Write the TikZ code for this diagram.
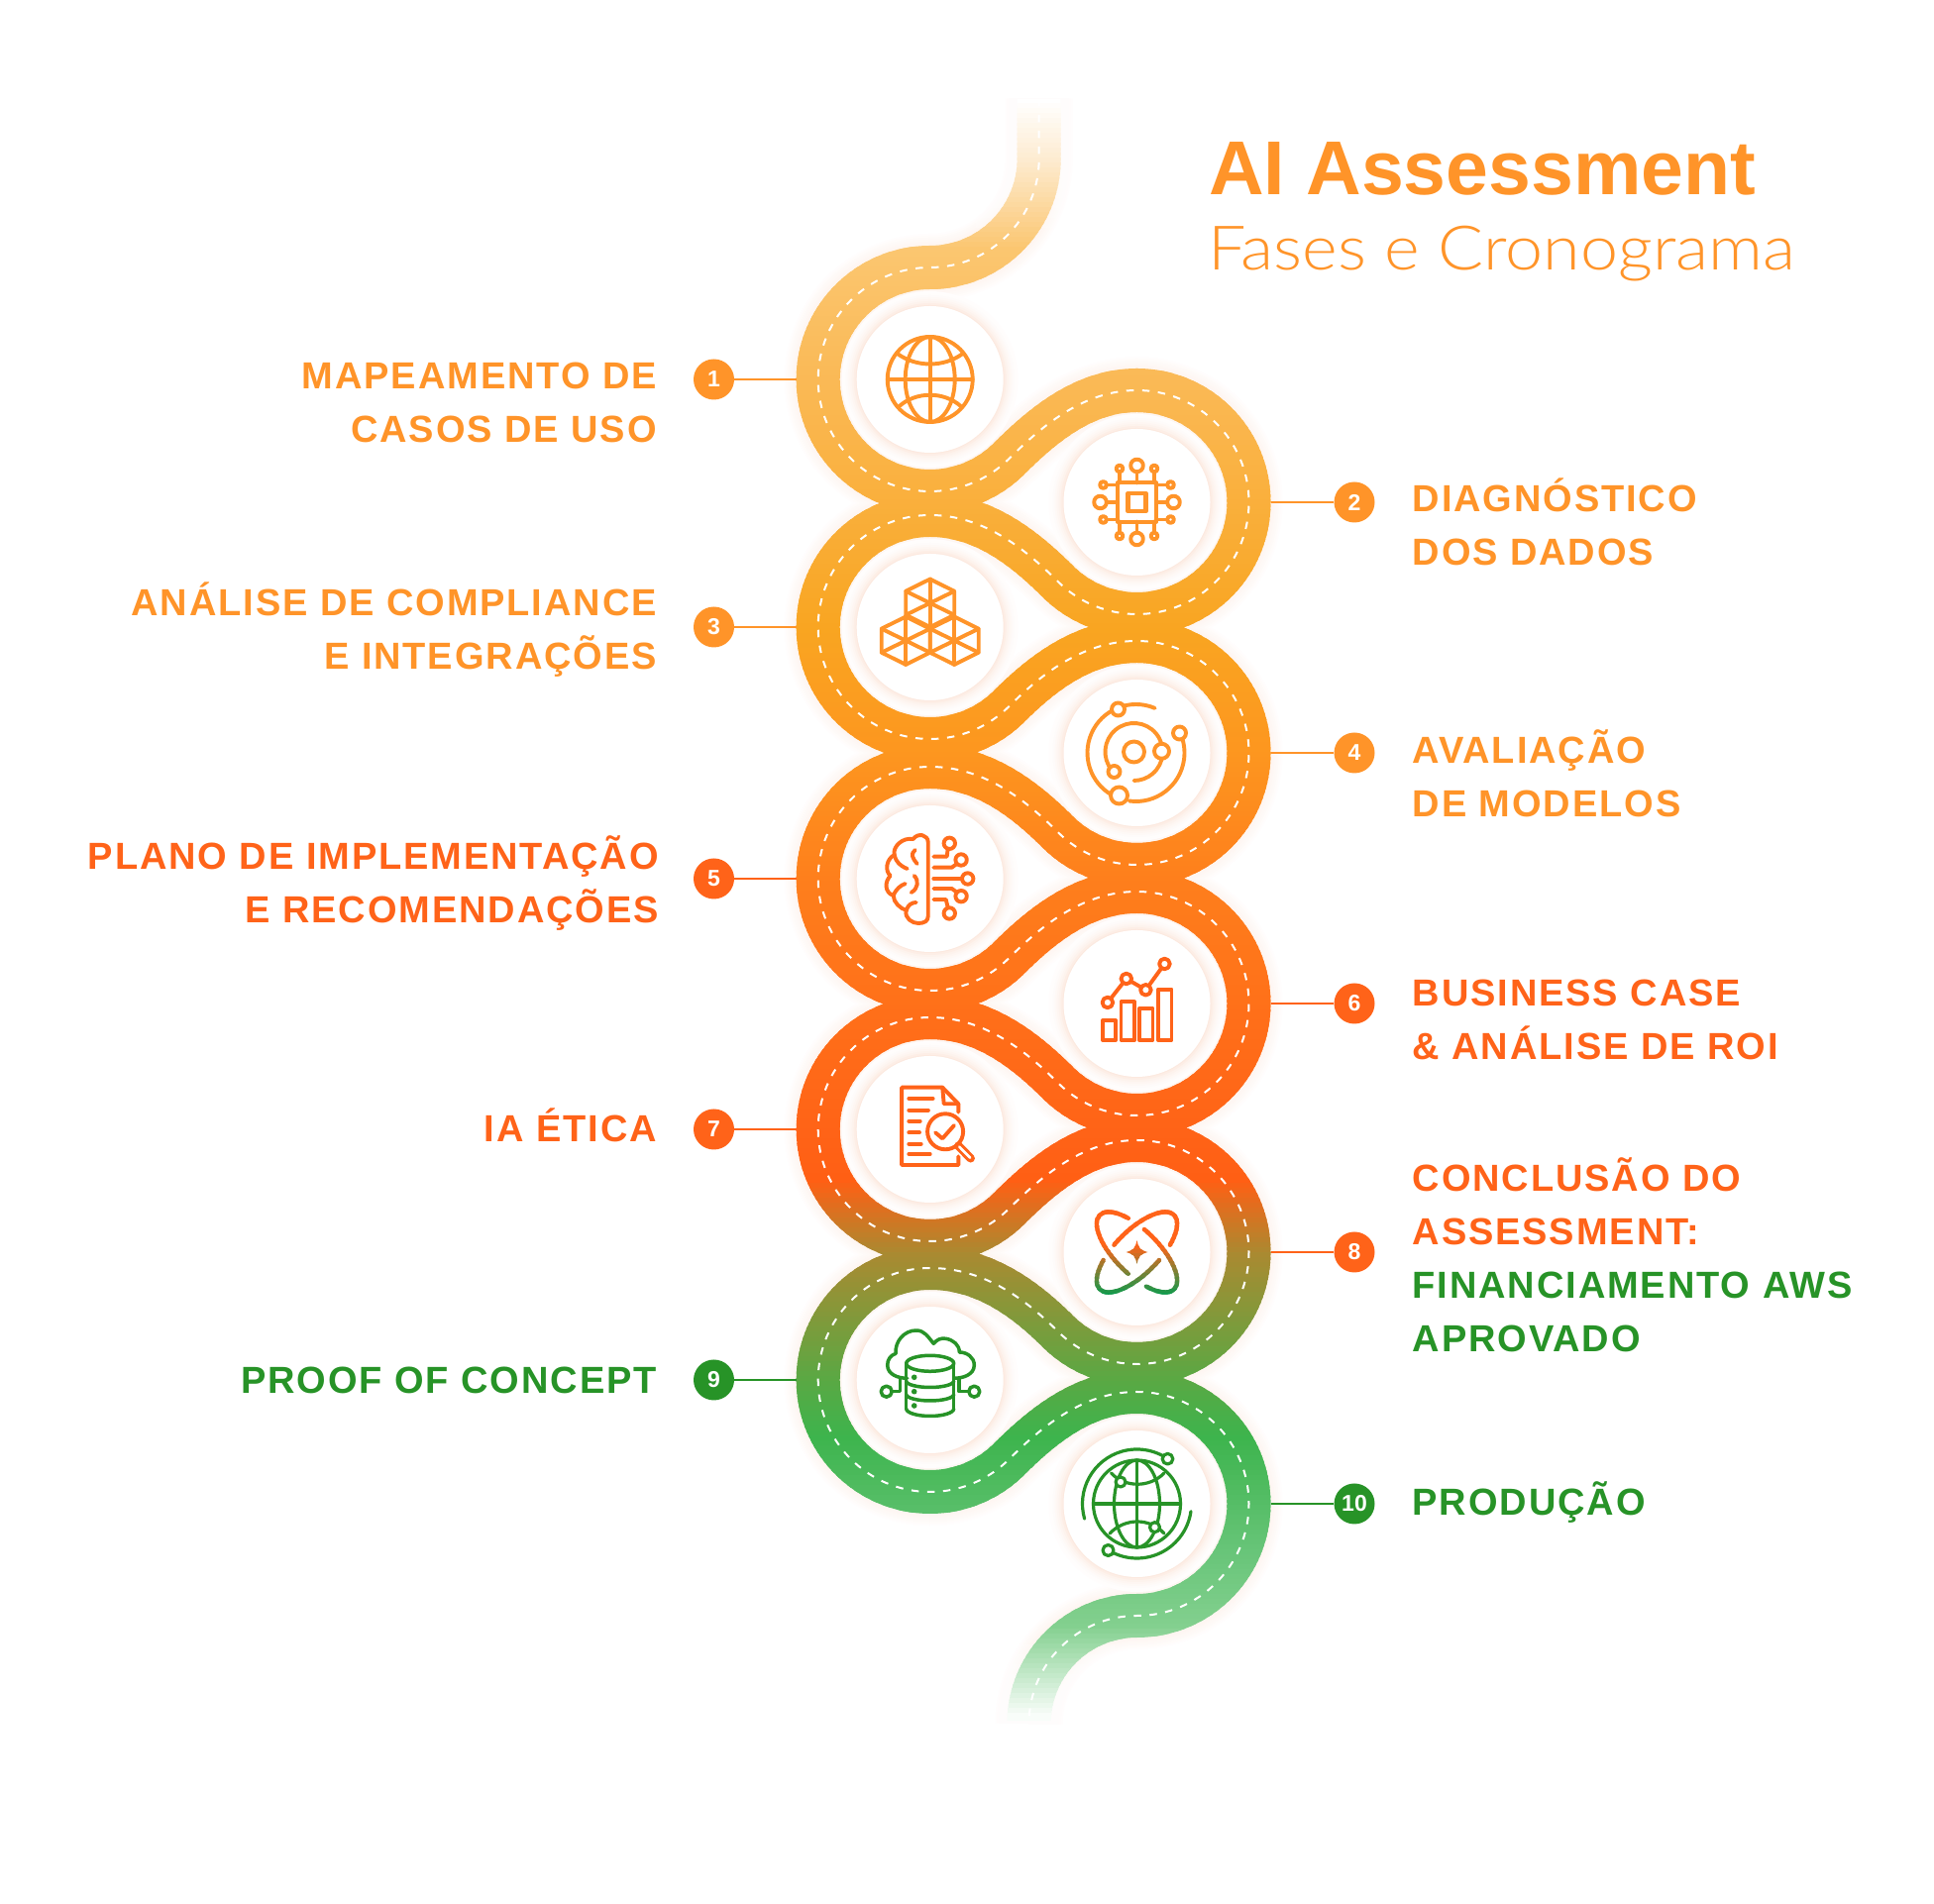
\documentclass[tikz,border=0pt]{standalone}
\usepackage{fontspec}
\usepackage{xcolor}
\setmainfont{Liberation Sans}
\newfontfamily\lblfont[LetterSpace=5]{Liberation Sans}
\newfontfamily\subfont[FakeStretch=1.1]{Lato Light}

\definecolor{lblOrange}{HTML}{FF9429}
\definecolor{lblRed}{HTML}{FF6319}
\definecolor{lblGreen}{HTML}{279327}
\definecolor{atomGreen}{HTML}{0E9A4C}
\definecolor{haloPink}{HTML}{FBDCCB}
\definecolor{rd0}{HTML}{FFFFFF}
\definecolor{rd1}{HTML}{FDEBD0}
\definecolor{rd2}{HTML}{FBC670}
\definecolor{rd3}{HTML}{FAB955}
\definecolor{rd4}{HTML}{F9A521}
\definecolor{rd5}{HTML}{FD961F}
\definecolor{rd6}{HTML}{FE7F1C}
\definecolor{rd7}{HTML}{FF7019}
\definecolor{rd8}{HTML}{FF6317}
\definecolor{rd9}{HTML}{FF5F14}
\definecolor{rd10}{HTML}{A98A31}
\definecolor{rd11}{HTML}{58A944}
\definecolor{rd12}{HTML}{3DB44D}
\definecolor{rd13}{HTML}{66C477}
\definecolor{rd14}{HTML}{83D08F}

\newcommand{\roadpath}{
(1048.7,1822) -- (1048.7,1762) arc[start angle=0,end angle=-90,radius=110]
arc[start angle=90,end angle=315,radius=113] .. controls +(45:50) and +(180:52) .. (1147.5,1528)
arc[start angle=90,end angle=-135,radius=113] .. controls +(135:50) and +(0:52) .. (938.7,1402)
arc[start angle=90,end angle=315,radius=113] .. controls +(45:50) and +(180:52) .. (1147.5,1275)
arc[start angle=90,end angle=-135,radius=113] .. controls +(135:50) and +(0:52) .. (938.7,1148)
arc[start angle=90,end angle=315,radius=113] .. controls +(45:50) and +(180:52) .. (1147.5,1022)
arc[start angle=90,end angle=-135,radius=113] .. controls +(135:50) and +(0:52) .. (938.7,895)
arc[start angle=90,end angle=315,radius=113] .. controls +(45:50) and +(180:52) .. (1147.5,771)
arc[start angle=90,end angle=-135,radius=113] .. controls +(135:50) and +(0:52) .. (938.7,642)
arc[start angle=90,end angle=315,radius=113] .. controls +(45:50) and +(180:52) .. (1147.5,517)
arc[start angle=90,end angle=-90,radius=113] arc[start angle=90,end angle=180,radius=109]
}

\newcommand{\atomicon}{
\draw[rotate=-45] (0,0) ++(125:53 and 22) arc[start angle=125,end angle=280,x radius=53,y radius=22];
\draw[rotate=-45] (0,0) ++(102:53 and 22) arc[start angle=102,end angle=-54,x radius=53,y radius=22];
\draw[rotate=45] (0,0) ++(102:53 and 22) arc[start angle=102,end angle=-57,x radius=53,y radius=22];
\draw[rotate=45] (0,0) ++(124:53 and 22) arc[start angle=124,end angle=281,x radius=53,y radius=22];
\fill (0,12) .. controls (1.5,4) and (4,1.5) .. (11,0) .. controls (4,-1.5) and (1.5,-4) .. (0,-12) .. controls (-1.5,-4) and (-4,-1.5) .. (-11,0) .. controls (-4,1.5) and (-1.5,4) .. (0,12) -- cycle;
}

\tikzset{
  disc/.style={circle,fill=white,minimum size=148pt,inner sep=0pt},
  badge/.style={circle,minimum size=41pt,inner sep=0pt,text=white,font=\bfseries\fontsize{23}{23}\selectfont},
  leader/.style={line width=1.6pt},
  lblL/.style={anchor=base east,align=right,inner sep=0pt,font=\lblfont\bfseries\fontsize{38}{54}\selectfont},
  lblR/.style={anchor=base west,align=left,inner sep=0pt,font=\lblfont\bfseries\fontsize{38}{54}\selectfont},
  icon/.style={line width=3.9pt,line cap=round,line join=round}
}

\begin{document}
\begin{tikzpicture}[x=1pt,y=1pt]
\useasboundingbox (0,0) rectangle (1952,1922);
\fill[white] (0,0) rectangle (1952,1922);

% soft edge of the road
\foreach \k in {12,10,...,2}{
\pgfmathsetmacro{\p}{(14-\k)*2.2}
\draw[line width=44+2*\k,draw=haloPink!\p!white] \roadpath;
}
\foreach \d in {0,10,...,80}{
\fill[white,opacity=.25] (985,1860) rectangle (1110,1922-150-\d);
\fill[white,opacity=.25] (985,120) rectangle (1125,1922-1740+\d);
}

% road, cut in thin bands so that its colour runs from top to bottom
\foreach \ya/\ca/\yb/\cb in {100/rd0/160/rd1,160/rd1/250/rd2,250/rd2/385/rd3,385/rd3/635/rd4,635/rd4/760/rd5,760/rd5/885/rd6,885/rd6/1015/rd7,1015/rd7/1140/rd8,1140/rd8/1190/rd9,1190/rd9/1265/rd10,1265/rd10/1395/rd11,1395/rd11/1450/rd12,1450/rd12/1560/rd13,1560/rd13/1640/rd14,1640/rd14/1735/rd0}{
\pgfmathsetmacro{\h}{\yb-\ya}
\pgfmathsetmacro{\hh}{\h-5}
\foreach \t in {0,5,...,\hh}{
\pgfmathsetmacro{\p}{100*(\t/\h)}
\begin{scope}
\clip (700,1922-\ya-\t) rectangle (1320,1922-\ya-\t-6.5);
\draw[line width=44pt,draw=\cb!\p!\ca] \roadpath;
\end{scope}
}
}
\draw[white,line width=2pt,dash pattern=on 7.5pt off 8.5pt] \roadpath;

% discs
\foreach \n/\x/\y in {1/938.7/1539,2/1147.5/1415,3/938.7/1289,4/1147.5/1162,5/938.7/1035,6/1147.5/909,7/938.7/782,8/1147.5/658,9/938.7/529,10/1147.5/404}{
\foreach \r in {89,87,...,75}{
\pgfmathsetmacro{\p}{(90-\r)*(90-\r)*0.26+4}
\fill[haloPink!\p!white] (\x,\y) circle (\r);
}
\node[disc] (n\n) at (\x,\y) {};
}

% numbers and their lines
\foreach \n/\bx/\ex/\y/\col in {1/720.5/803.7/1539/lblOrange,2/1367/1282.5/1415/lblOrange,3/720.5/803.7/1289/lblOrange,4/1367/1282.5/1162/lblOrange,5/720.5/803.7/1035/lblRed,6/1367/1282.5/909/lblRed,7/720.5/803.7/782/lblRed,8/1367/1282.5/658/lblRed,9/720.5/803.7/529/lblGreen,10/1367/1282.5/404/lblGreen}{
\coordinate (e\n) at (\ex,\y);
\node[badge,fill=\col] (b\n) at (\bx,\y) {\n};
\draw[leader,\col] (b\n) -- (e\n);
}

% texts
\node[anchor=base west,inner sep=0pt,text=lblOrange,font=\bfseries\fontsize{77}{77}\selectfont] (title) at (1220,1725) {AI Assessment};
\node[anchor=base west,inner sep=0pt,text=lblOrange,font=\subfont\fontsize{62}{62}\selectfont] (subtitle) at (1219,1649.3) {Fases e Cronograma};

\node[lblL,text=lblOrange] (lab1) at (663,1475.7) {MAPEAMENTO DE\\CASOS DE USO};
\node[lblR,text=lblOrange] (lab2) at (1425.5,1351.2) {DIAGNÓSTICO\\DOS DADOS};
\node[lblL,text=lblOrange] (lab3) at (663,1246.6) {ANÁLISE DE COMPLIANCE\\E INTEGRAÇÕES};
\node[lblR,text=lblOrange] (lab4) at (1425.5,1097.2) {AVALIAÇÃO\\DE MODELOS};
\node[lblL,text=lblRed] (lab5) at (665,990.3) {PLANO DE IMPLEMENTAÇÃO\\E RECOMENDAÇÕES};
\node[lblR,text=lblRed] (lab6) at (1425.5,852) {BUSINESS CASE\\\& ANÁLISE DE ROI};
\node[lblL,text=lblRed] (lab7) at (663,769) {IA ÉTICA};
\node[lblR] (lab8) at (1425.5,557) {\textcolor{lblRed}{CONCLUSÃO DO}\\\textcolor{lblRed}{ASSESSMENT:}\\\textcolor{lblGreen}{FINANCIAMENTO AWS}\\\textcolor{lblGreen}{APROVADO}};
\node[lblL,text=lblGreen] (lab9) at (663,515) {PROOF OF CONCEPT};
\node[lblR,text=lblGreen] (lab10) at (1425.5,392) {PRODUÇÃO};

% globe
\begin{scope}[shift={(n1)},icon,color=lblOrange]
\draw (0,0) circle (43);
\draw (0,0) ellipse (25 and 43);
\draw (-43,0) -- (43,0);
\draw (0,-43) -- (0,43);
\draw (-33,26) .. controls (-14,12) and (14,12) .. (33,26);
\draw (-31,-27) .. controls (-14,-12) and (14,-12) .. (31,-27);
\end{scope}

% chip
\begin{scope}[shift={(n2)},icon,color=lblOrange]
\draw (-19.6,-19.6) rectangle (19.6,19.6);
\draw[line width=4.6pt] (-9,-9) rectangle (9,9);
\foreach \a in {0,90,180,270}{
\begin{scope}[rotate=\a]
\draw (19.6,0) -- (30.5,0);
\draw (37,0) circle (6.3);
\draw (19.6,17.5) -- (30,17.5);
\draw (19.6,-17.5) -- (30,-17.5);
\draw (34,17.5) circle (3.4);
\draw (34,-17.5) circle (3.4);
\end{scope}
}
\end{scope}

% cubes
\begin{scope}[shift={(n3)},icon,color=lblOrange]
\foreach \cx/\cy in {0/24.2,-24.5/-13.7,24.5/-13.7}{
\begin{scope}[shift={(\cx,\cy)}]
\draw (0,24.2) -- (24.5,12) -- (24.5,-12) -- (0,-24.2) -- (-24.5,-12) -- (-24.5,12) -- cycle;
\draw (0,24.2) -- (0,-24.2);
\draw (-24.5,12) -- (24.5,-12);
\draw (-24.5,-12) -- (24.5,12);
\end{scope}
}
\end{scope}

% orbits
\begin{scope}[shift={(n4)},icon,color=lblOrange]
\draw (-3,1) circle (10.5);
\draw (-3,1) ++(220:29) arc[start angle=220,end angle=-90,radius=29];
\draw (-1,0) ++(67:49) arc[start angle=67,end angle=240,radius=49];
\draw (-1,0) ++(262:49) arc[start angle=262,end angle=385,radius=49];
\filldraw[fill=white] (25,1.7) circle (7.5);
\filldraw[fill=white] (-23,-19) circle (6);
\filldraw[fill=white] (-19,44) circle (6.5);
\filldraw[fill=white] (-18,-43) circle (8.5);
\filldraw[fill=white] (43,20) circle (6.5);
\end{scope}

% brain
\begin{scope}[shift={(n5)},icon,color=lblRed!80!lblOrange]
\draw (-2,-38) -- (-2,37) .. controls (-2,44) and (-12,47) .. (-17,40) .. controls (-28,42) and (-38,32) .. (-36,24)
  .. controls (-44,20) and (-46,8) .. (-40,3) .. controls (-46,-3) and (-46,-14) .. (-37,-17)
  .. controls (-37,-24) and (-30,-30) .. (-24,-32) .. controls (-26,-40) and (-18,-45) .. (-12,-45) .. controls (-6,-45) and (-2,-43) .. (-2,-38);
\draw (-36,24) .. controls (-34,16) and (-30,13) .. (-23,10);
\draw (-15,29) .. controls (-20,25) and (-18,21) .. (-13,15);
\draw (-16,3) .. controls (-11,-2) and (-12,-10) .. (-19,-14);
\draw (-37,-17) .. controls (-34,-10) and (-30,-7) .. (-25,-5);
\draw (-24,-32) .. controls (-22,-26) and (-18,-24) .. (-14,-24);
\draw (3.6,22.3) -- (17,22.3) -- (18,30.5);
\draw (19.6,35.7) circle (5.7);
\draw (3.6,11.3) -- (22,11.3) -- (27,15);
\draw (31.4,19) circle (5.7);
\draw (3.6,0) -- (32.3,0);
\draw (38,0) circle (5.7);
\draw (3.6,-10) -- (22,-10) -- (27,-13.7);
\draw (31.4,-17.7) circle (5.7);
\draw (3.6,-21) -- (16,-21) -- (18,-29);
\draw (19.6,-35) circle (5.7);
\end{scope}

% chart
\begin{scope}[shift={(n6)},icon,color=lblRed]
\draw (-34.6,-37) rectangle (-21.4,-17.3);
\draw (-16,-37) rectangle (-2.5,1.7);
\draw (2.5,-37) rectangle (16,-5);
\draw (21.4,-37) rectangle (35,14.3);
\draw (-29.6,1) -- (-10.7,25) -- (8.9,13.7) -- (27.9,40);
\filldraw[fill=white] (-29.6,1) circle (5.3);
\filldraw[fill=white] (-10.7,25) circle (5.3);
\filldraw[fill=white] (8.9,13.7) circle (5.3);
\filldraw[fill=white] (27.9,40) circle (5.3);
\end{scope}

% document and lens
\begin{scope}[shift={(n7)},icon,color=lblRed]
\draw (28.6,17.3) -- (28.6,25.7) -- (12.5,42.3) -- (-28.6,42.3) -- (-28.6,-36) -- (28.6,-36) -- (28.6,-27.3);
\draw (12.5,42.3) -- (14,25.7) -- (28.6,25.7);
\draw (-21.4,31) -- (2.9,31);
\draw (-21.4,19.3) -- (-1.8,19.3);
\draw (-21.4,8.3) -- (-10,8.3);
\draw (-21.4,-3.3) -- (-10.7,-3.3);
\draw (-21.4,-14.7) -- (-9,-14.7);
\draw (-21.4,-25) -- (0,-25);
\filldraw[fill=white] (15.4,-2.3) circle (18);
\draw (5.4,-3.3) -- (12.5,-9.3) -- (24.3,4);
\draw[line width=8.5pt] (28.6,-16.7) -- (41,-29.3);
\draw[white,line width=2.6pt] (29.5,-17.6) -- (40.5,-28.8);
\end{scope}

% atom, its colour runs from red to green
\begin{scope}[shift={(n8)},icon,line width=4.4pt]
\foreach \t in {46,42,...,-46}{
\pgfmathsetmacro{\p}{max(0,min(100,(8-\t)*100/50))}
\begin{scope}[color=atomGreen!\p!lblRed]
\clip (-50,\t) rectangle (50,\t-4.5);
\atomicon
\end{scope}
}
\end{scope}

% cloud and database
\begin{scope}[shift={(n9)},icon,color=lblGreen,line width=3.5pt]
\draw (-23,1.7) to[out=180,in=270] (-43,15) to[out=90,in=200] (-34.6,26.7) to[out=95,in=180] (-14,50) to[out=0,in=130] (3.6,36.7)
  to[out=50,in=170] (16,41.7) to[out=-10,in=90] (29.6,28) to[out=0,in=90] (44.6,15) to[out=-90,in=0] (24,1.7);
\filldraw[fill=white] (0,16.7) ellipse (24 and 8);
\draw (-24,16.7) -- (-24,-29) (24,16.7) -- (24,-29);
\draw (-24,-1) arc[start angle=180,end angle=360,x radius=24,y radius=6.5];
\draw (-24,-14.5) arc[start angle=180,end angle=360,x radius=24,y radius=6.5];
\draw (-24,-29) arc[start angle=180,end angle=360,x radius=24,y radius=7.5];
\fill (-16,2.7) circle (2.8);
\fill (-16,-11.7) circle (2.8);
\fill (-16,-26) circle (2.8);
\draw (-30,1.7) -- (-30,-11.7) -- (-38.5,-11.7);
\draw (-44,-11.7) circle (5.5);
\draw (29.3,1.7) -- (29.3,-11.7) -- (39,-11.7);
\draw (44.6,-11.7) circle (5.5);
\end{scope}

% globe with orbit
\begin{scope}[shift={(n10)},icon,color=lblGreen,line width=3.2pt]
\draw (0,0) circle (44);
\draw (0,0) ellipse (23 and 44);
\draw (-44,0) -- (44,0);
\draw (0,-44) -- (0,44);
\draw (-26,31) .. controls (-12,16) and (13,16) .. (27.5,31);
\draw (-27.5,-30) .. controls (-12,-14) and (13,-14) .. (27.5,-30);
\draw (0,0) ++(196:55) arc[start angle=196,end angle=56,radius=55];
\draw (0,0) ++(-8:55) arc[start angle=-8,end angle=-122,radius=55];
\filldraw[fill=white] (-16.5,22) circle (5);
\filldraw[fill=white] (18,-23.7) circle (5);
\filldraw[fill=white] (31,45.3) circle (5.3);
\filldraw[fill=white] (-29,-47) circle (5.5);
\end{scope}
\end{tikzpicture}
\end{document}
